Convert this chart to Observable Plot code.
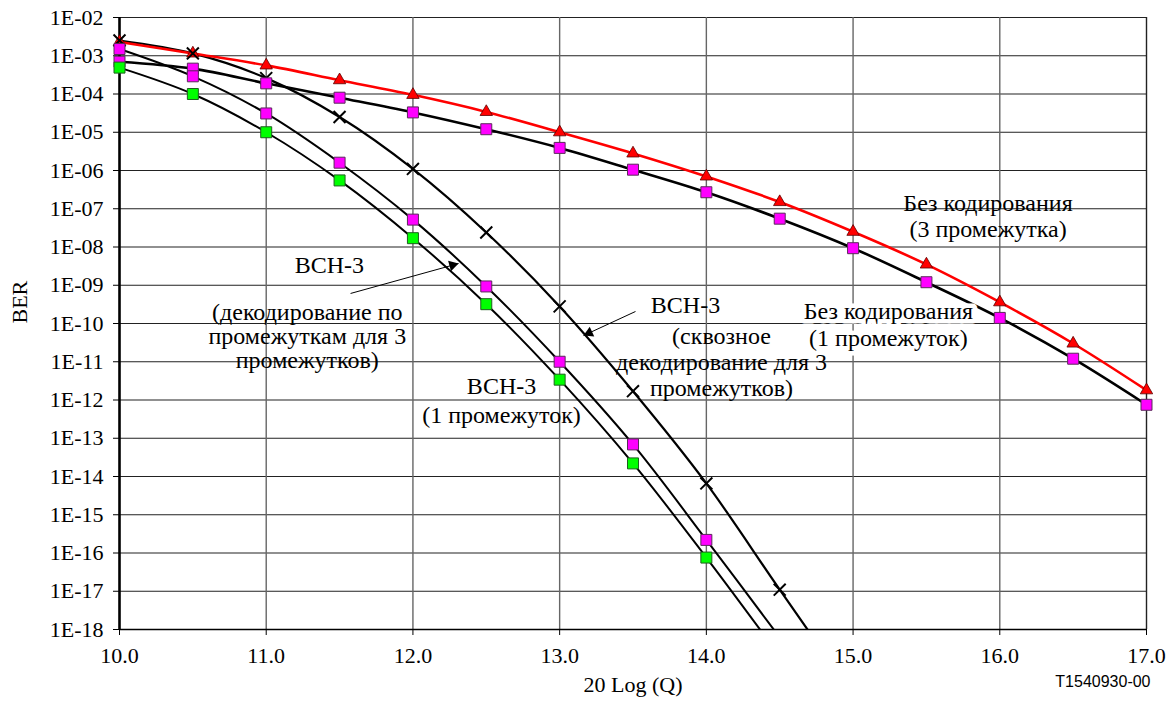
<!DOCTYPE html>
<html><head><meta charset="utf-8">
<script src="https://cdn.jsdelivr.net/npm/d3@7"></script>
<script src="https://cdn.jsdelivr.net/npm/@observablehq/plot@0.6"></script>
<style>body{margin:0;background:#fff} #chart svg{display:block}</style>
</head><body><div id="chart"></div>
<script>
// 20 Log (Q) values
const q = [10.0, 10.5, 11.0, 11.5, 12.0, 12.5, 13.0, 13.5, 14.0, 14.5, 15.0, 15.5, 16.0, 16.5, 17.0];
// Без кодирования (3 промежутка) – red triangles
const berUncoded3 = [2.3e-3, 1.15e-3, 5.6e-4, 2.3e-4, 9.5e-5, 3.4e-5, 1.0e-5, 2.8e-6, 7.0e-7, 1.5e-7, 2.5e-8, 3.5e-9, 3.6e-10, 3.0e-11, 1.8e-12];
// Без кодирования (1 промежуток) – magenta squares
const berUncoded1 = [7.0e-4, 4.6e-4, 1.9e-4, 8.0e-5, 3.3e-5, 1.2e-5, 3.9e-6, 1.05e-6, 2.7e-7, 5.5e-8, 9.3e-9, 1.2e-9, 1.4e-10, 1.2e-11, 7.5e-13];
// BCH-3 (декодирование по промежуткам для 3 промежутков) – magenta squares
const berBchSegment = [1.5e-3, 2.9e-4, 3.1e-5, 1.6e-6, 5.2e-8, 9.3e-10, 1.0e-11, 6.9e-14, 2.2e-16, 6.2e-19];
// BCH-3 (1 промежуток) – green squares
const berBchOne = [4.9e-4, 1.0e-4, 1.0e-5, 5.5e-7, 1.7e-8, 3.2e-10, 3.4e-12, 2.2e-14, 7.6e-17, 2.0e-19];
// BCH-3 (сквозное декодирование для 3 промежутков) – crosses
const berBchEndToEnd = [2.5e-3, 1.15e-3, 2.6e-4, 2.5e-5, 1.1e-6, 2.4e-8, 2.8e-10, 1.7e-12, 6.6e-15, 1.1e-17, 2.0e-20];

const xTicks = [10, 11, 12, 13, 14, 15, 16, 17];
const yTicks = [1e-2, 1e-3, 1e-4, 1e-5, 1e-6, 1e-7, 1e-8, 1e-9, 1e-10, 1e-11, 1e-12, 1e-13, 1e-14, 1e-15, 1e-16, 1e-17, 1e-18];
const yTickLabels = ["1E-02","1E-03","1E-04","1E-05","1E-06","1E-07","1E-08","1E-09","1E-10","1E-11","1E-12","1E-13","1E-14","1E-15","1E-16","1E-17","1E-18"];

// annotations (positions in data coordinates)
const notesPlain = [
  {x: 15.92, y: 6.7e-8, text: "Без кодирования\n(3 промежутка)", lh: 1.08},
  {x: 12.604, y: 1.03e-12, text: "BCH-3\n(1 промежуток)", lh: 1.17},
  {x: 13.858, y: 3.0e-10, text: "BCH-3", lh: 1},
  {x: 14.103, y: 9.8e-12, text: "(сквозное\nдекодирование для 3\nпромежутков)", lh: 1.08},
  {x: 11.431, y: 3.3e-9, text: "BCH-3", lh: 1},
  {x: 11.28, y: 4.6e-11, text: "(декодирование по\nпромежуткам для 3\nпромежутков)", lh: 1.0}
];
const notesBoxed = [
  {x: 15.241, y: 9.7e-11, text: "Без кодирования\n(1 промежуток)", lh: 1.12}
];
const arrows = [
  {x1: 11.575, y1: 6.1e-10, x2: 12.311, y2: 3.7e-9, rot: 74.5, dx: -6.0, dy: 1.7},
  {x1: 13.517, y1: 2.06e-10, x2: 13.163, y2: 4.85e-11, rot: 245.2, dx: 5.6, dy: -2.6}
];

const rows = (arr) => arr.map((v, i) => ({q: q[i], ber: v}));
const visible = (arr) => rows(arr).filter(d => d.ber >= 1e-18);

const serif = "Liberation Serif, Times New Roman, serif";

const noteMarks = (list, extra) => list.map(n => Plot.text([n], {x: "x", y: "y", text: "text", lineHeight: n.lh, fontFamily: serif, fontSize: 24, fill: "black", ...extra}));

const chart = Plot.plot({
  width: 1174, height: 707,
  marginLeft: 119, marginRight: 28, marginTop: 17, marginBottom: 78,
  style: {fontFamily: serif, fontSize: "22px", background: "white", color: "black"},
  x: {domain: [10, 17]},
  y: {type: "log", domain: [1e-18, 1e-2]},
  marks: [
    // grid
    Plot.ruleY(yTicks, {stroke: "#222", strokeWidth: 1.2}),
    Plot.ruleX(xTicks.slice(1, -1), {stroke: "#666", strokeWidth: 1.4}),
    Plot.ruleX([17], {stroke: "#222", strokeWidth: 1.4}),
    Plot.ruleY([1e-18], {stroke: "#000", strokeWidth: 1.6}),
    Plot.ruleX([10], {stroke: "#000", strokeWidth: 2.6}),
    // axes
    Plot.axisX(xTicks, {tickSize: 6, tickPadding: 12, tickFormat: d => d.toFixed(1), label: null, fontFamily: serif, fontSize: 22}),
    Plot.axisY(yTicks, {tickSize: 6, tickPadding: 10, tickFormat: d => yTickLabels[yTicks.indexOf(d)], label: null, fontFamily: serif, fontSize: 22}),
    // annotations text (no backing)
    ...noteMarks(notesPlain, {}),
    // curves
    Plot.line(rows(berBchOne), {x: "q", y: "ber", stroke: "black", strokeWidth: 2, curve: "catmull-rom", clip: true}),
    Plot.line(rows(berBchSegment), {x: "q", y: "ber", stroke: "black", strokeWidth: 2, curve: "catmull-rom", clip: true}),
    Plot.line(rows(berBchEndToEnd), {x: "q", y: "ber", stroke: "black", strokeWidth: 2.2, curve: "catmull-rom", clip: true}),
    Plot.line(rows(berUncoded1), {x: "q", y: "ber", stroke: "black", strokeWidth: 2.6, curve: "catmull-rom", clip: true}),
    Plot.line(rows(berUncoded3), {x: "q", y: "ber", stroke: "#ff0000", strokeWidth: 2.6, curve: "catmull-rom", clip: true}),
    // markers
    Plot.dot(visible(berUncoded3), {x: "q", y: "ber", symbol: "triangle", r: 4.6, fill: "#ff0000", stroke: "#5a0000", strokeWidth: 0.8}),
    Plot.dot(visible(berBchEndToEnd), {x: "q", y: "ber", symbol: "times", r: 5.5, stroke: "black", strokeWidth: 2}),
    Plot.dot(visible(berUncoded1), {x: "q", y: "ber", symbol: "square", r: 6.2, fill: "#ff00ff", stroke: "#5a2a5a", strokeWidth: 1}),
    Plot.dot(visible(berBchSegment), {x: "q", y: "ber", symbol: "square", r: 6.2, fill: "#ff00ff", stroke: "#5a2a5a", strokeWidth: 1}),
    Plot.dot(visible(berBchOne), {x: "q", y: "ber", symbol: "square", r: 6.2, fill: "#00ff00", stroke: "#1f5f1f", strokeWidth: 1}),
    // annotation with white backing
    ...noteMarks(notesBoxed, {stroke: "white", strokeWidth: 9}),
    // arrows
    Plot.link(arrows, {x1: "x1", y1: "y1", x2: "x2", y2: "y2", stroke: "black", strokeWidth: 1}),
    Plot.dot(arrows.slice(0, 1), {x: "x2", y: "y2", symbol: "triangle", r: 4, rotate: "rot", fill: "black", dx: arrows[0].dx, dy: arrows[0].dy}),
    Plot.dot(arrows.slice(1), {x: "x2", y: "y2", symbol: "triangle", r: 4, rotate: "rot", fill: "black", dx: arrows[1].dx, dy: arrows[1].dy}),
    // axis titles & caption
    Plot.text(["20 Log (Q)"], {frameAnchor: "bottom", text: d => d, dy: 62, fill: "black", fontFamily: serif, fontSize: 22}),
    Plot.text(["BER"], {frameAnchor: "left", text: d => d, dx: -100, rotate: -90, fill: "black", fontFamily: serif, fontSize: 22}),
    Plot.text(["T1540930-00"], {frameAnchor: "bottom-right", text: d => d, dx: 4, dy: 57, textAnchor: "end", fontFamily: "Liberation Sans, Arial, sans-serif", fontSize: 16, fill: "black"})
  ]
});
document.getElementById("chart").appendChild(chart);
</script>
</body></html>
